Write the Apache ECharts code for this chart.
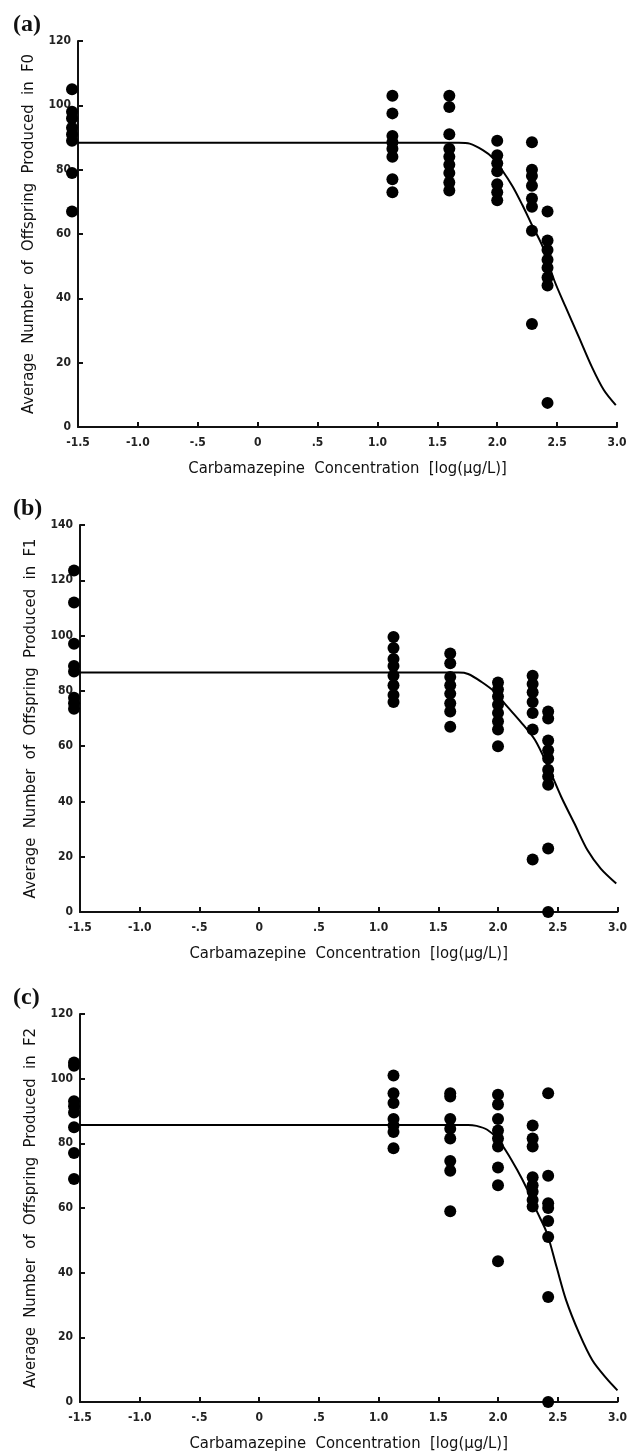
<!DOCTYPE html>
<html>
<head>
<meta charset="utf-8">
<script src="https://cdn.jsdelivr.net/npm/echarts@6/dist/echarts.min.js"></script>
<style>
  html, body { margin: 0; padding: 0; background: #fff; }
  #chart { width: 630px; height: 1456px; }
</style>
</head>
<body>
<div id="chart"></div>
<script>
// x positions of the tested concentrations (control sits just left of the axis)
const doseLevels = [-1.55, 1.125, 1.6, 2.0, 2.29, 2.42];
const xTicks = [-1.5, -1.0, -0.5, 0, 0.5, 1.0, 1.5, 2.0, 2.5, 3.0];
const xTickLabels = ['-1.5', '-1.0', '-.5', '0', '.5', '1.0', '1.5', '2.0', '2.5', '3.0'];

const panelLabels = ['(a)', '(b)', '(c)'];
const yTitles = [
  'Average  Number  of  Offspring  Produced  in  F0',
  'Average  Number  of  Offspring  Produced  in  F1',
  'Average  Number  of  Offspring  Produced  in  F2'
];
const xTitle = 'Carbamazepine  Concentration  [log(µg/L)]';
const yMax = [120, 140, 120];

// offspring counts per dose level (one list per dose)
const f0Counts = [
  [105, 98, 96, 93, 91, 89, 79, 67],
  [103, 97.5, 90.5, 88.5, 86.5, 84, 77, 73],
  [103, 99.5, 91, 86.5, 84, 81.5, 79, 76, 73.5],
  [89, 84.5, 82, 79.5, 75.5, 73, 70.5],
  [88.5, 80, 78, 75, 71, 68.5, 61, 32],
  [67, 58, 55, 52, 49.5, 46.5, 44, 7.5]
];
const f1Counts = [
  [123.5, 112, 97, 89, 87, 77.5, 75.5, 73.5],
  [99.5, 95.5, 91.5, 89, 85.5, 82, 78.5, 76],
  [93.5, 90, 85, 82, 79, 75.5, 72.5, 67],
  [83, 80.5, 78, 75, 72, 69, 66, 60],
  [85.5, 82.5, 79.5, 76, 72, 66, 19],
  [72.5, 70, 62, 58.5, 55.5, 51.5, 49, 46, 23, 0]
];
const f2Counts = [
  [105, 104, 93, 91.5, 89.5, 85, 77, 69],
  [101, 95.5, 92.5, 87.5, 85.5, 83.5, 78.5],
  [95.5, 94.5, 87.5, 84.5, 81.5, 74.5, 71.5, 59],
  [95, 92, 87.5, 84, 81.5, 79, 72.5, 67, 43.5],
  [85.5, 81.5, 79, 69.5, 67, 65, 62.5, 60.5],
  [95.5, 70, 61.5, 60, 56, 51, 32.5, 0]
];

// fitted concentration-response curves
const f0CurveX = [-1.5, 1.68, 1.77, 1.88, 1.96, 2.04, 2.13, 2.21, 2.29, 2.38, 2.475, 2.57, 2.68, 2.79, 2.89, 2.99];
const f0CurveY = [88.4, 88.4, 88.1, 86.1, 83.8, 79.9, 74.7, 69, 62.8, 56, 45.7, 37.4, 28.1, 18.7, 11.5, 6.8];
const f1CurveX = [-1.5, 1.67, 1.75, 1.86, 1.97, 2.08, 2.19, 2.31, 2.42, 2.53, 2.64, 2.75, 2.86, 2.99];
const f1CurveY = [86.6, 86.6, 86.1, 83.3, 79.7, 74.2, 68.8, 62.2, 52.5, 41.6, 32, 22.3, 15.7, 10.3];
const f2CurveX = [-1.5, 1.75, 1.82, 1.91, 1.99, 2.07, 2.16, 2.24, 2.32, 2.41, 2.49, 2.57, 2.68, 2.79, 2.91, 3.0];
const f2CurveY = [85.7, 85.7, 85.4, 84.2, 81.6, 77.5, 71.8, 66.1, 59.4, 52.2, 41.8, 31.5, 21.2, 12.9, 7.2, 3.6];

const allCounts = [f0Counts, f1Counts, f2Counts];
const curves = [[f0CurveX, f0CurveY], [f1CurveX, f1CurveY], [f2CurveX, f2CurveY]];

const gridBoxes = [
  { left: 78, top: 41, width: 539, height: 386 },
  { left: 80, top: 525, width: 540, height: 387 },
  { left: 80, top: 1014, width: 539, height: 388 }
];

const narrow = '"DejaVu Sans Condensed", "Liberation Sans Narrow", sans-serif';

const chart = echarts.init(document.getElementById('chart'), null, { renderer: 'canvas' });

const grids = [], xAxes = [], yAxes = [], series = [], titles = [];

gridBoxes.forEach((box, i) => {
  grids.push(box);
  titles.push({
    text: panelLabels[i],
    left: 8,
    top: box.top - 33,
    textStyle: { fontFamily: '"Liberation Serif", "DejaVu Serif", serif', fontWeight: 'bold', fontSize: 24, color: '#111' }
  });
  xAxes.push({
    type: 'value',
    gridIndex: i,
    min: -1.5,
    max: 3.0,
    interval: 0.5,
    name: xTitle,
    nameLocation: 'middle',
    nameGap: 33,
    nameTextStyle: { fontFamily: narrow, fontSize: 16.5, color: '#111' },
    axisLine: { onZero: false, lineStyle: { color: '#111', width: 2 } },
    axisTick: { inside: true, length: 5, lineStyle: { color: '#111', width: 2 } },
    axisLabel: {
      margin: 10,
      fontFamily: narrow, fontSize: 12, fontWeight: 'bold', color: '#222',
      formatter: v => {
        const k = xTicks.findIndex(t => Math.abs(t - v) < 1e-6);
        return k >= 0 ? xTickLabels[k] : '';
      }
    },
    splitLine: { show: false }
  });
  yAxes.push({
    type: 'value',
    gridIndex: i,
    min: 0,
    max: yMax[i],
    interval: 20,
    name: yTitles[i],
    nameLocation: 'middle',
    nameGap: 41,
    nameRotate: 90,
    nameTextStyle: { fontFamily: narrow, fontSize: 16.5, color: '#111' },
    axisLine: { show: true, onZero: false, lineStyle: { color: '#111', width: 2 } },
    axisTick: { show: true, inside: true, length: 5, lineStyle: { color: '#111', width: 2 } },
    axisLabel: { margin: 7, fontFamily: narrow, fontSize: 12, fontWeight: 'bold', color: '#222' },
    splitLine: { show: false }
  });

  const pts = [];
  allCounts[i].forEach((vals, d) => {
    vals.forEach(v => pts.push([doseLevels[d], v]));
  });
  series.push({
    type: 'scatter',
    xAxisIndex: i,
    yAxisIndex: i,
    data: pts,
    symbol: 'circle',
    symbolSize: 12,
    clip: false,
    itemStyle: { color: '#000', opacity: 1 },
    z: 3
  });

  const [cx, cy] = curves[i];
  series.push({
    type: 'line',
    xAxisIndex: i,
    yAxisIndex: i,
    data: cx.map((x, k) => [x, cy[k]]),
    smooth: 0.3,
    showSymbol: false,
    lineStyle: { color: '#000', width: 2 },
    z: 4
  });
});

chart.setOption({
  backgroundColor: '#fff',
  animation: false,
  title: titles,
  grid: grids,
  xAxis: xAxes,
  yAxis: yAxes,
  series: series
});
</script>
</body>
</html>
